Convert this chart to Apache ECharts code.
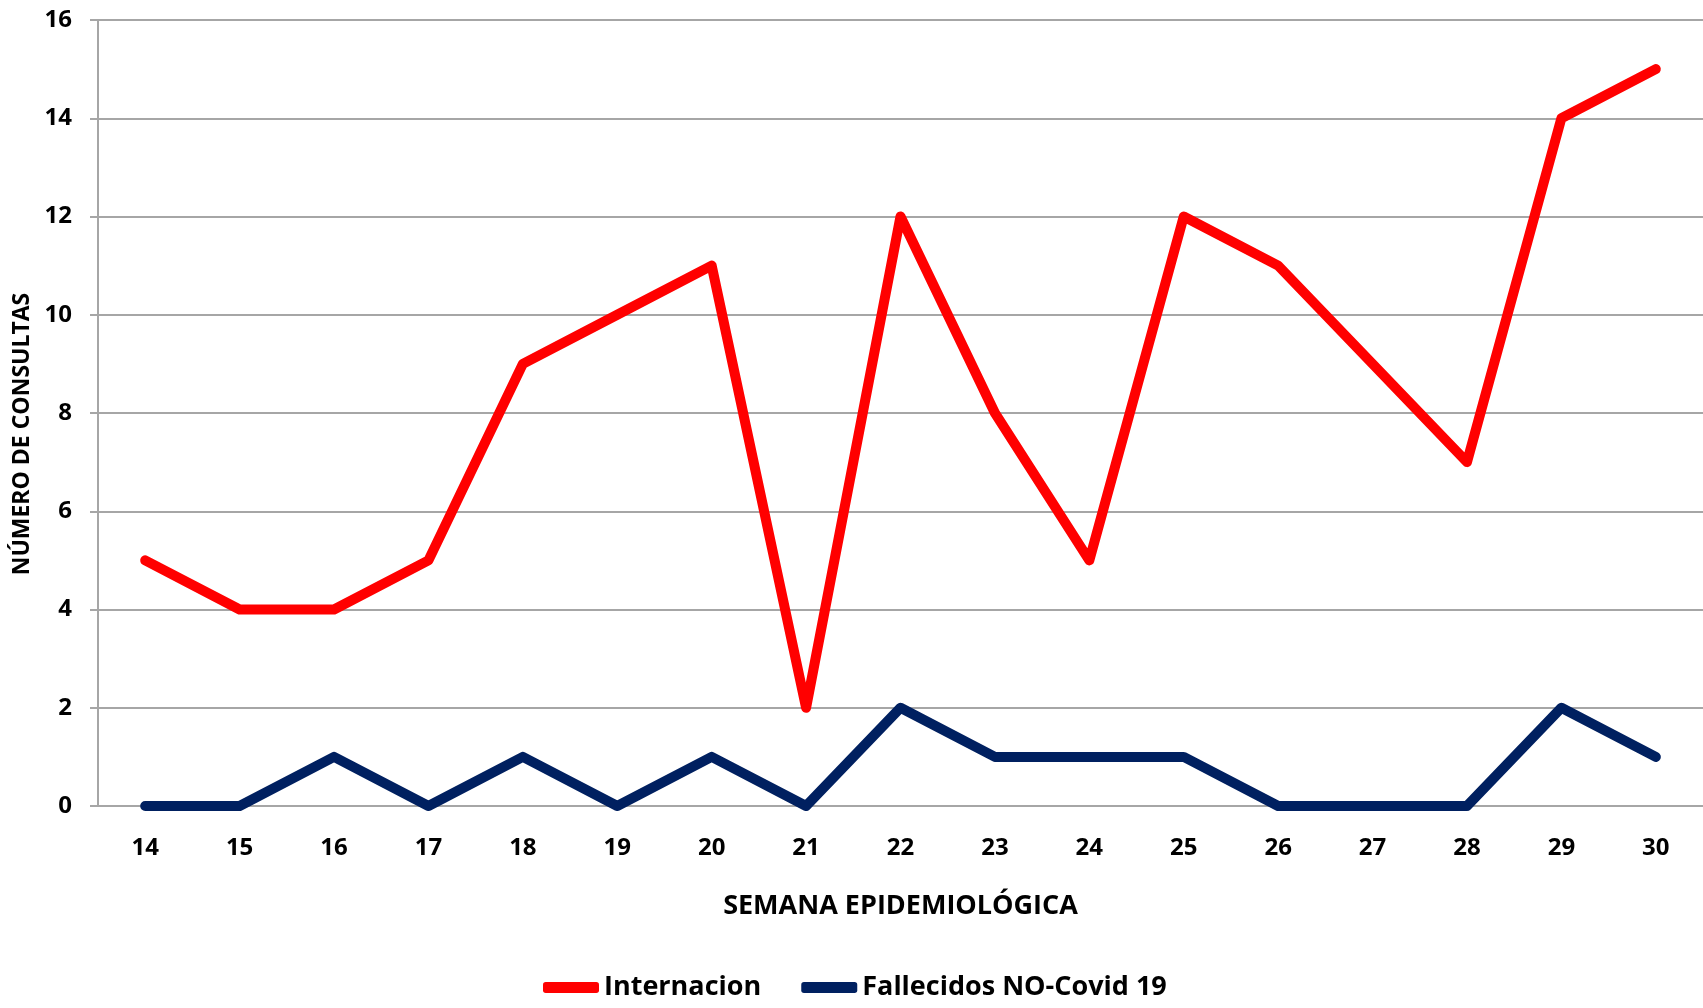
<!DOCTYPE html>
<html>
<head>
<meta charset="utf-8">
<script src="https://cdn.jsdelivr.net/npm/echarts@6/dist/echarts.min.js"></script>
<style>
  html, body { margin: 0; padding: 0; background: #fff; }
  #mains { width: 1703px; height: 1008px; }
</style>
</head>
<body>
<div id="mains"></div>
<script>
var semanas = ['14','15','16','17','18','19','20','21','22','23','24','25','26','27','28','29','30'];
var internacion = [5, 4, 4, 5, 9, 10, 11, 2, 12, 8, 5, 12, 11, 9, 7, 14, 15];
var fallecidos = [0, 0, 1, 0, 1, 0, 1, 0, 2, 1, 1, 1, 0, 0, 0, 2, 1];

var fuente = 'Open Sans, sans-serif';

var myChart = echarts.init(document.getElementById('mains'));
myChart.setOption({
  animation: false,
  grid: { left: 98, right: 0, top: 20, bottom: 202, outerBoundsMode: 'none' },
  legend: {
    left: 538,
    top: 969,
    itemWidth: 56,
    itemHeight: 11,
    itemGap: 40,
    icon: 'roundRect',
    textStyle: { color: '#000', fontSize: 27, fontWeight: 'bold', fontFamily: fuente },
    data: ['Internacion', 'Fallecidos NO-Covid 19']
  },
  xAxis: {
    type: 'category',
    data: semanas,
    name: 'SEMANA EPIDEMIOLÓGICA',
    nameLocation: 'middle',
    nameGap: 87,
    nameTextStyle: { color: '#000', fontSize: 27, fontWeight: 'bold', fontFamily: fuente },
    axisLine: { lineStyle: { color: '#a6a6a6', width: 2 } },
    axisTick: { show: false },
    axisLabel: { color: '#000', fontSize: 24, fontWeight: 'bold', fontFamily: fuente, margin: 30 }
  },
  yAxis: {
    type: 'value',
    min: 0,
    max: 16,
    interval: 2,
    name: 'NÚMERO DE CONSULTAS',
    nameLocation: 'middle',
    nameGap: 62,
    nameTextStyle: { color: '#000', fontSize: 23, fontWeight: 'bold', fontFamily: fuente, padding: [0, 42, 0, 0] },
    axisLine: { show: true, lineStyle: { color: '#a6a6a6', width: 2 } },
    axisTick: { show: true, length: 8, lineStyle: { color: '#a6a6a6', width: 2 } },
    axisLabel: { color: '#000', fontSize: 24, fontWeight: 'bold', fontFamily: fuente, margin: 26 },
    splitLine: { lineStyle: { color: '#a6a6a6', width: 2 } }
  },
  series: [
    {
      name: 'Internacion',
      type: 'line',
      data: internacion,
      symbol: 'none',
      color: '#ff0000',
      lineStyle: { color: '#ff0000', width: 10, cap: 'round', join: 'round' }
    },
    {
      name: 'Fallecidos NO-Covid 19',
      type: 'line',
      data: fallecidos,
      symbol: 'none',
      color: '#002060',
      lineStyle: { color: '#002060', width: 10, cap: 'round', join: 'round' }
    }
  ]
});
</script>
</body>
</html>
